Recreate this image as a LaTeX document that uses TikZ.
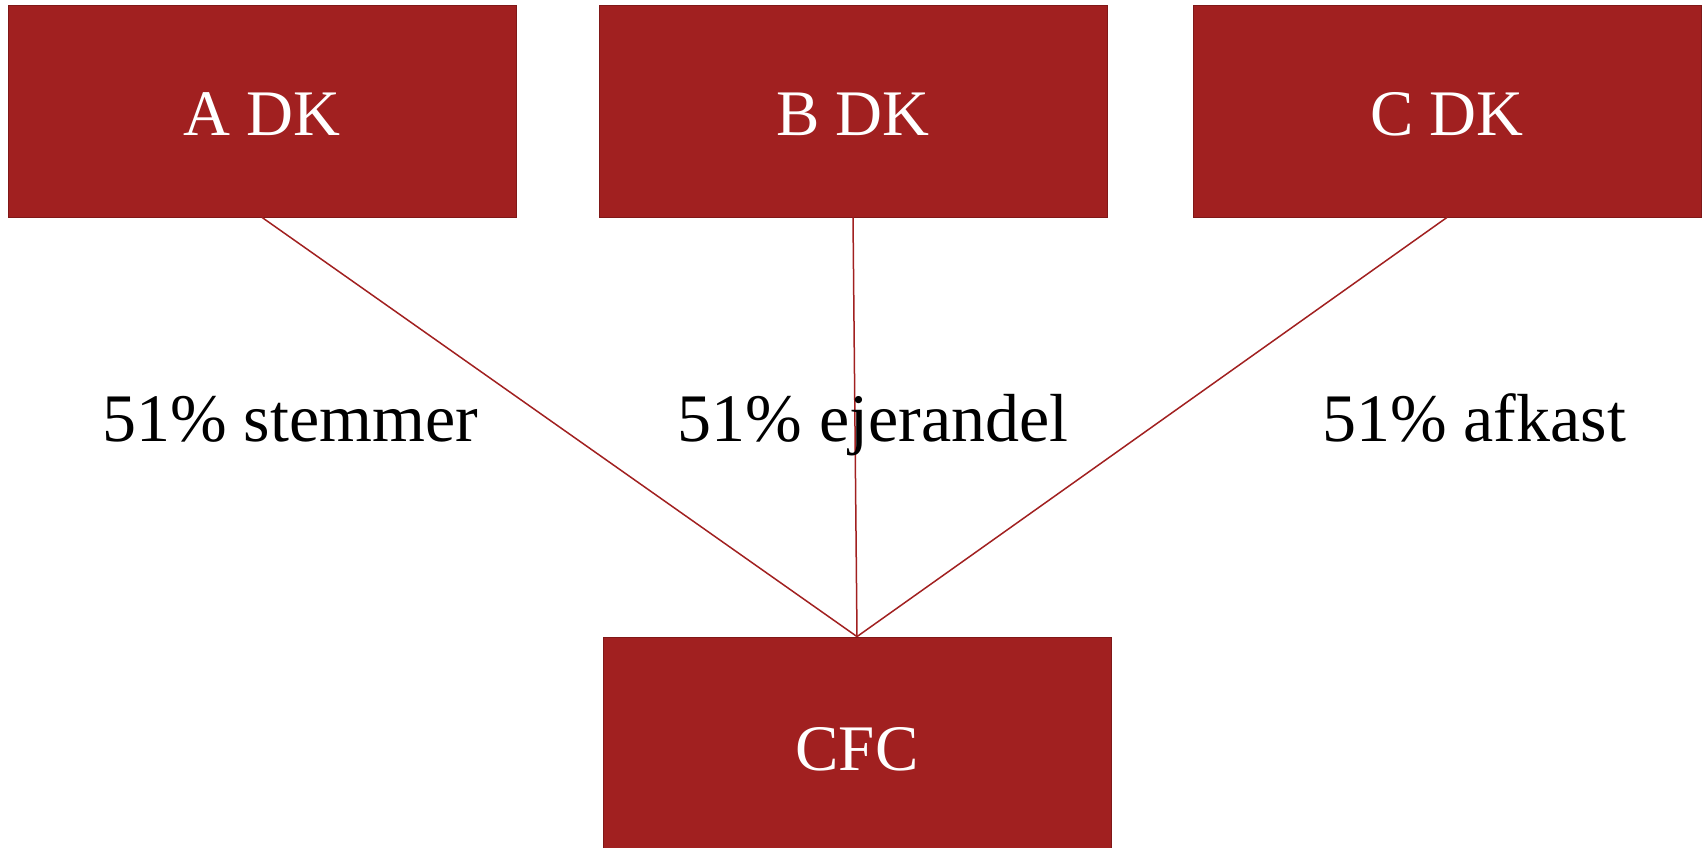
\documentclass[tikz,border=0pt]{standalone}
\usepackage{fontspec}
\setmainfont{Liberation Serif}
\definecolor{boxred}{RGB}{161,32,32}
\definecolor{edgered}{RGB}{128,24,24}
\begin{document}
\begin{tikzpicture}[x=1pt,y=-1pt,
  entity/.style={draw=edgered, line width=0.8pt, fill=boxred, minimum width=508pt, minimum height=212pt, inner sep=0pt},
  boxlabel/.style={text=white, font=\fontsize{65}{70}\selectfont, anchor=base},
  share/.style={text=black, font=\fontsize{68}{74}\selectfont, anchor=base},
  link/.style={draw=boxred, line width=1.5pt}]
  \useasboundingbox (0,0) rectangle (1706,848);
  % owner companies
  \node[entity] (A) at (262,111) {};
  \node[entity] (B) at (853,111) {};
  \node[entity] (C) at (1447,111) {};
  % controlled foreign company
  \node[entity, minimum height=220pt] (CFC) at (857,747) {};
  \node[boxlabel] (tA) at (262,136) {A DK};
  \node[boxlabel] (tB) at (853,136) {B DK};
  \node[boxlabel] (tC) at (1447,136) {C DK};
  \node[boxlabel] (tCFC) at (857,770) {CFC};
  % ownership links
  \coordinate (top) at (CFC.north);
  \draw[link] (A.south) -- (top);
  \draw[link] (B.south) -- (top);
  \draw[link] (C.south) -- (top);
  % share labels
  \node[share] (l1) at (290,441) {51\% stemmer};
  \node[share] (l2) at (873,441) {51\% ejerandel};
  \node[share] (l3) at (1474,441) {51\% afkast};
\end{tikzpicture}
\end{document}
